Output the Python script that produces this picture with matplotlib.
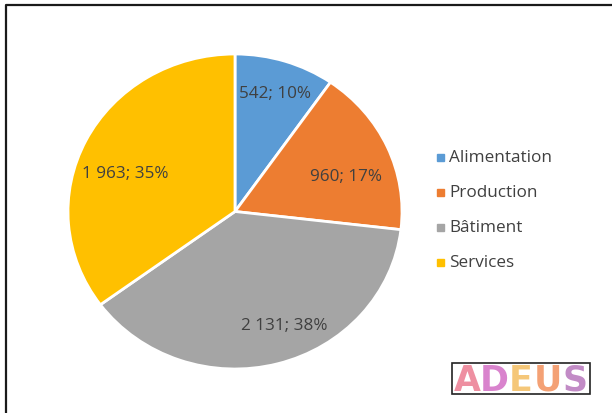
import matplotlib
matplotlib.use("Agg")
import matplotlib.pyplot as plt
from matplotlib.patches import Rectangle
from matplotlib.transforms import offset_copy

# Data
categories = ["Alimentation", "Production", "Bâtiment", "Services"]
values = [542, 960, 2131, 1963]
value_labels = ["542", "960", "2 131", "1 963"]
colors = ["#5B9BD5", "#ED7D31", "#A5A5A5", "#FFC000"]

plt.rcParams["font.family"] = ["Open Sans", "DejaVu Sans"]

W, H = 612, 414
fig = plt.figure(figsize=(W / 100, H / 100), dpi=100)
fig.patch.set_facecolor("white")

# Background axes in pixel coordinates (frame line, legend, logo)
bg = fig.add_axes([0, 0, 1, 1])
bg.set_xlim(0, W)
bg.set_ylim(H, 0)
bg.axis("off")
bg.plot([5.5, 5.5, W + 5], [H + 5, 5.5, 5.5], color="#1a1a1a", lw=1.6,
        solid_capstyle="butt", zorder=1)

# Pie chart (slightly elliptical)
cx, cy, rx, ry = 235, 212.5, 167, 157.5
pie_ax = fig.add_axes([(cx - rx) / W, (H - cy - ry) / H, 2 * rx / W, 2 * ry / H])


def fmt(pct_value, _it=iter(value_labels)):
    return f"{next(_it)}; {pct_value:.0f}%"


wedges, texts, autotexts = pie_ax.pie(
    values, colors=colors, startangle=90, counterclock=False,
    autopct=fmt, pctdistance=0.74,
    wedgeprops=dict(edgecolor="white", linewidth=2),
    textprops=dict(color="#404040", fontsize=12.3),
)
pie_ax.set_aspect("auto")
pie_ax.set_xlim(-1, 1)
pie_ax.set_ylim(-1, 1)

# Nudge the data labels (pixel offsets, y upwards)
label_nudges = [(3, 7), (-2, -12), (18, -1), (0, -14)]
for t, (dx, dy) in zip(autotexts, label_nudges):
    t.set_transform(offset_copy(t.get_transform(), fig=fig, x=dx, y=dy,
                                units="dots"))

# Legend
leg_x, leg_y0, leg_dy = 440, 158, 35
for i, (cat, col) in enumerate(zip(categories, colors)):
    y = leg_y0 + i * leg_dy
    bg.add_patch(Rectangle((leg_x - 3.5, y - 3.5), 7, 7, color=col, zorder=3))
    bg.text(leg_x + 9, y, cat, fontsize=12.3, color="#404040",
            va="center", ha="left", zorder=3)

# Logo
bg.add_patch(Rectangle((452, 364), 138, 31, facecolor="white",
                       edgecolor="#222222", lw=1.2, zorder=3))
logo_letters = ["A", "D", "E", "U", "S"]
logo_colors = ["#E8607A", "#C94FB8", "#F2B040", "#F07A3A", "#A85AAE"]
for j, (ch, col) in enumerate(zip(logo_letters, logo_colors)):
    bg.text(467 + j * 27, 381, ch, fontsize=25, fontweight="bold",
            color=col, alpha=0.7, ha="center", va="center",
            family="DejaVu Sans", zorder=4)

fig.savefig("out.png", dpi=100)
